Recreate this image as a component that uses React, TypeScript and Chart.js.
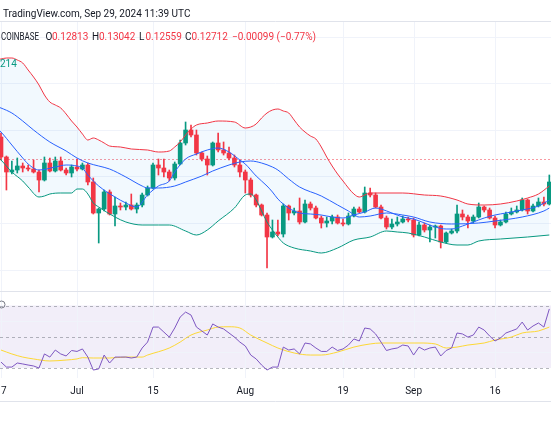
import React, { useEffect, useRef } from "react";
import { Chart, registerables } from "chart.js";

Chart.register(...registerables);

// Day index: 0 = Jul 1 2024. First visible candle is Jun 17 (-14), last is Sep 26 (87).
const FIRST_DAY = -14;

const openPrice = [
  0.1316, 0.1276, 0.1246, 0.125, 0.1258, 0.1254, 0.1252, 0.1246, 0.123, 0.1264,
  0.1248, 0.1268, 0.125, 0.1244, 0.1256, 0.1252, 0.126, 0.1226, 0.1164, 0.1172,
  0.1206, 0.1162, 0.1178, 0.1176, 0.118, 0.1172, 0.118, 0.12, 0.1214, 0.126,
  0.1254, 0.1246, 0.1234, 0.1262, 0.1304, 0.133, 0.132, 0.1284, 0.1272, 0.126,
  0.1304, 0.129, 0.1284, 0.1274, 0.126, 0.1246, 0.123, 0.12, 0.118, 0.116,
  0.1116, 0.1126, 0.1122, 0.1178, 0.1164, 0.1168, 0.1146, 0.1182, 0.1174, 0.1154,
  0.1144, 0.1148, 0.1156, 0.1144, 0.1142, 0.1158, 0.1172, 0.1166, 0.1204, 0.12,
  0.1176, 0.1154, 0.1136, 0.1142, 0.1146, 0.1152, 0.115, 0.112, 0.114, 0.113,
  0.1136, 0.1138, 0.1106, 0.1124, 0.1128, 0.1162, 0.1156, 0.1148, 0.1156, 0.1176,
  0.117, 0.1154, 0.114, 0.1146, 0.1162, 0.1166, 0.117, 0.119, 0.1168, 0.1178,
  0.1186, 0.1182,
];
const highPrice = [
  0.1324, 0.1278, 0.1268, 0.1274, 0.1264, 0.126, 0.127, 0.125, 0.1276, 0.1274,
  0.1276, 0.1276, 0.1254, 0.126, 0.1272, 0.1264, 0.1264, 0.1234, 0.1174, 0.121,
  0.121, 0.1196, 0.1184, 0.1186, 0.1202, 0.1184, 0.1204, 0.1218, 0.1264, 0.1272,
  0.1272, 0.125, 0.1266, 0.131, 0.1346, 0.134, 0.133, 0.1286, 0.1278, 0.1306,
  0.1324, 0.1306, 0.1296, 0.128, 0.127, 0.125, 0.1234, 0.1202, 0.1182, 0.1164,
  0.115, 0.115, 0.1182, 0.118, 0.1174, 0.1194, 0.119, 0.1186, 0.1178, 0.1158,
  0.1156, 0.116, 0.116, 0.1152, 0.1164, 0.1176, 0.1176, 0.1216, 0.1214, 0.1204,
  0.118, 0.1158, 0.1152, 0.1156, 0.1158, 0.1156, 0.1154, 0.1146, 0.1144, 0.114,
  0.114, 0.114, 0.1126, 0.1132, 0.118, 0.117, 0.116, 0.116, 0.1184, 0.1178,
  0.1174, 0.1158, 0.115, 0.1166, 0.1174, 0.1178, 0.1194, 0.1192, 0.1182, 0.1194,
  0.1196, 0.124,
];
const lowPrice = [
  0.127, 0.121, 0.1242, 0.1244, 0.1246, 0.1248, 0.1244, 0.1206, 0.1228, 0.1246,
  0.1246, 0.1248, 0.124, 0.1236, 0.1248, 0.125, 0.122, 0.1162, 0.1104, 0.1168,
  0.116, 0.1138, 0.117, 0.117, 0.117, 0.1164, 0.1176, 0.1198, 0.1212, 0.124,
  0.1236, 0.1228, 0.123, 0.126, 0.13, 0.1316, 0.128, 0.1268, 0.124, 0.1258,
  0.1286, 0.128, 0.127, 0.1256, 0.1236, 0.1204, 0.1196, 0.1176, 0.1158, 0.1054,
  0.1114, 0.1118, 0.1116, 0.115, 0.116, 0.1142, 0.1144, 0.117, 0.1152, 0.1134,
  0.1136, 0.1142, 0.1142, 0.1138, 0.114, 0.1156, 0.1164, 0.1164, 0.1196, 0.1174,
  0.1152, 0.1132, 0.1132, 0.1138, 0.1144, 0.1146, 0.1116, 0.1118, 0.1126, 0.1106,
  0.1114, 0.1094, 0.1104, 0.1122, 0.1124, 0.115, 0.1134, 0.1144, 0.1154, 0.1166,
  0.1152, 0.1134, 0.1138, 0.1144, 0.116, 0.1164, 0.1168, 0.1162, 0.1166, 0.1176,
  0.1178, 0.118,
];
const closePrice = [
  0.1276, 0.1246, 0.125, 0.1258, 0.1254, 0.1252, 0.1246, 0.123, 0.1264, 0.1248,
  0.1268, 0.125, 0.1244, 0.1256, 0.1252, 0.126, 0.1226, 0.1164, 0.1172, 0.1206,
  0.1162, 0.1178, 0.1176, 0.118, 0.1172, 0.118, 0.12, 0.1214, 0.126, 0.1254,
  0.1246, 0.1234, 0.1262, 0.1304, 0.133, 0.132, 0.1284, 0.1272, 0.126, 0.1304,
  0.129, 0.1284, 0.1274, 0.126, 0.1246, 0.123, 0.12, 0.118, 0.116, 0.1116,
  0.1126, 0.1122, 0.1178, 0.1164, 0.1168, 0.1146, 0.1182, 0.1174, 0.1154, 0.1144,
  0.1148, 0.1156, 0.1144, 0.1142, 0.1158, 0.1172, 0.1166, 0.1204, 0.12, 0.1176,
  0.1154, 0.1136, 0.1142, 0.1146, 0.1152, 0.115, 0.112, 0.114, 0.113, 0.1136,
  0.1138, 0.1106, 0.1124, 0.1128, 0.1162, 0.1156, 0.1148, 0.1156, 0.1176, 0.117,
  0.1154, 0.114, 0.1146, 0.1162, 0.1166, 0.117, 0.119, 0.1168, 0.1178, 0.1186,
  0.1182, 0.1226,
];

const rsiValues = [
  33.8, 30.6, 30.6, 33.2, 32.6, 31.9, 31.3, 30.0, 39.0, 37.0,
  41.5, 39.0, 37.7, 41.2, 40.6, 42.2, 37.0, 28.7, 29.4, 38.3,
  33.2, 37.0, 37.0, 37.0, 36.4, 37.0, 42.8, 46.6, 56.2, 56.2,
  53.0, 49.8, 55.6, 62.6, 65.8, 63.9, 56.2, 53.7, 51.1, 58.2,
  56.2, 55.0, 52.4, 49.8, 46.6, 44.1, 38.3, 35.8, 31.9, 28.7,
  30.6, 30.6, 43.4, 41.5, 42.2, 39.0, 46.0, 45.4, 42.8, 40.6,
  40.6, 43.4, 41.2, 42.2, 44.7, 48.6, 47.3, 55.6, 55.0, 51.8,
  46.6, 41.2, 42.2, 42.8, 44.7, 44.1, 38.3, 43.4, 41.5, 42.8,
  43.4, 37.7, 41.2, 42.8, 52.4, 51.8, 49.8, 51.1, 56.2, 54.3,
  50.5, 47.3, 49.2, 52.4, 53.7, 55.0, 59.4, 54.3, 56.9, 58.8,
  56.2, 67.8,
];

// [day, price] samples
const bbUpper = [
  [-15, 0.147], [-14, 0.1472], [-13, 0.1474], [-12, 0.1474], [-11, 0.147], [-10, 0.1464],
  [-9, 0.145], [-8, 0.1436], [-7, 0.142], [-6, 0.14], [-5, 0.1386], [-4, 0.138],
  [-3, 0.1374], [-2, 0.1362], [-1, 0.1348], [0, 0.1336], [1, 0.1322], [2, 0.131],
  [3, 0.1314], [4, 0.131], [5, 0.1304], [6, 0.1298], [8, 0.1296], [10, 0.1292],
  [13, 0.129], [15, 0.1286], [17, 0.1288], [18, 0.1296], [19, 0.1306], [20, 0.132],
  [21, 0.1332], [22, 0.134], [24, 0.1344], [26, 0.1348], [29, 0.1346], [31, 0.1334],
  [32, 0.1336], [33, 0.1342], [34, 0.1354], [35, 0.1364], [36, 0.137], [37, 0.1372],
  [38, 0.1368], [39, 0.1364], [40, 0.135], [41, 0.1336], [42, 0.1326], [43, 0.1318],
  [44, 0.1312], [45, 0.1296], [46, 0.1276], [47, 0.1258], [48, 0.1242], [49, 0.1228],
  [50, 0.1214], [51, 0.1202], [52, 0.1196], [53, 0.12], [54, 0.1204], [56, 0.1204],
  [60, 0.1204], [64, 0.12], [67, 0.1198], [70, 0.119], [72, 0.1182], [75, 0.118],
  [78, 0.1182], [81, 0.1188], [83, 0.1194], [85, 0.1202], [87, 0.1218],
];
const bbBasis = [
  [-15, 0.1378], [-14, 0.1374], [-12, 0.1364], [-10, 0.1348], [-8, 0.133], [-5, 0.1306],
  [-2, 0.1288], [0, 0.1274], [2, 0.1264], [4, 0.1258], [6, 0.1252], [9, 0.1236],
  [12, 0.1218], [13, 0.1214], [15, 0.1214], [18, 0.1218], [20, 0.1226], [23, 0.1238],
  [25, 0.1248], [28, 0.126], [30, 0.1266], [32, 0.1268], [34, 0.1264], [36, 0.1256],
  [37, 0.125], [39, 0.1232], [41, 0.1216], [45, 0.1198], [48, 0.118], [50, 0.1168],
  [52, 0.1156], [54, 0.1158], [57, 0.1164], [60, 0.116], [62, 0.1156], [65, 0.1146],
  [69, 0.1142], [74, 0.1144], [77, 0.1148], [82, 0.1156], [86, 0.1168], [87, 0.1174],
];
const fastMa = [
  [-15, 0.1336], [-14, 0.1326], [-12, 0.13], [-10, 0.1274], [-9, 0.1262], [-7, 0.125],
  [-4, 0.1256], [-2, 0.126], [0, 0.1258], [1, 0.1254], [2, 0.124], [4, 0.1218],
  [7, 0.1196], [9, 0.1184], [11, 0.1176], [13, 0.12], [15, 0.1218], [17, 0.1228],
  [18, 0.1246], [20, 0.1272], [22, 0.1282], [24, 0.129], [26, 0.1294], [28, 0.1286],
  [30, 0.127], [31, 0.1262], [33, 0.1238], [35, 0.1218], [36, 0.1206], [37, 0.1192],
  [38, 0.1182], [39, 0.1174], [40, 0.1168], [41, 0.1164], [43, 0.1162], [45, 0.116],
  [47, 0.1156], [49, 0.1154], [51, 0.116], [53, 0.1166], [55, 0.1174], [56, 0.1172],
  [58, 0.1164], [60, 0.1156], [62, 0.1152], [64, 0.1144], [66, 0.1136], [68, 0.1132],
  [69, 0.1132], [71, 0.1138], [73, 0.1146], [75, 0.1154], [77, 0.116], [79, 0.1164],
  [82, 0.117], [85, 0.1178], [87, 0.119],
];
const bbLower = [
  [-15, 0.128], [-14, 0.127], [-12, 0.1246], [-10, 0.1228], [-9, 0.1216], [-7, 0.1196],
  [-6, 0.1198], [-5, 0.1202], [-3, 0.1204], [-1, 0.1204], [0, 0.1212], [1, 0.1212],
  [2, 0.1202], [3, 0.1184], [4, 0.1176], [7, 0.1156], [9, 0.1146], [12, 0.114],
  [15, 0.114], [17, 0.114], [20, 0.1128], [22, 0.112], [24, 0.113], [26, 0.1148],
  [29, 0.1174], [31, 0.12], [32, 0.1202], [33, 0.119], [34, 0.1168], [35, 0.1146],
  [36, 0.113], [37, 0.1116], [38, 0.1104], [40, 0.1094], [43, 0.1088], [45, 0.1084],
  [48, 0.1094], [51, 0.111], [54, 0.1116], [57, 0.1128], [59, 0.1126], [61, 0.1124],
  [64, 0.1116], [67, 0.1106], [70, 0.11], [72, 0.11], [74, 0.1108], [78, 0.1112],
  [83, 0.1116], [87, 0.112],
];
const rsiMa = [
  [-14, 41.5], [-12, 39.0], [-10, 37.0], [-8, 35.8], [-5, 34.5], [-2, 35.1], [0, 35.8],
  [1, 36.6], [3, 36.4], [6, 36.4], [9, 37.0], [12, 37.0], [13, 38.3], [17, 42.8],
  [19, 46.6], [21, 51.1], [24, 54.3], [26, 56.2], [28, 56.4], [30, 55.6], [32, 51.1],
  [35, 46.0], [37, 42.8], [40, 39.6], [43, 38.3], [45, 38.3], [48, 40.2], [51, 43.4],
  [54, 45.4], [56, 46.0], [60, 46.0], [63, 46.0], [66, 45.4], [68, 42.8], [70, 43.4],
  [72, 44.7], [75, 46.0], [77, 47.9], [80, 49.8], [82, 52.4], [85, 53.7], [87, 56.2],
];

const timeTickDays = [-14, 0, 14, 31, 49, 62, 77];
const timeTickLabels = ["17", "Jul", "15", "Aug", "19", "Sep", "16"];
const priceGridLevels = [0.1516, 0.1423, 0.133, 0.1237, 0.1144, 0.1051];
const rsiBandLevels = [70, 50, 30];
const rsiGridLevels = [60, 40];
const lastPrice = 0.12712;

const headerTitle = "TradingView.com, Sep 29, 2024 11:39 UTC";
const symbolExchange = "COINBASE";
const ohlcKeys = ["O", "H", "L", "C"];
const ohlcValues = ["0.12813", "0.13042", "0.12559", "0.12712"];
const changeLabel = "\u22120.00099 (\u22120.77%)";
const bbLegendTail = "214";

const UP = "#089981";
const DOWN = "#F23645";
const BLUE = "#2962FF";
const TEXT = "#131722";
const GRID = "#f0f3fa";
const BORDER = "#e0e3eb";
const FONT = "10px Roboto, 'Liberation Sans', sans-serif";

// layout (pixels)
const W = 551;
const H = 431;
const PANE_TOP = 22;
const HEADER_SEP = 21.5;
const PANE_SEP = 291.5;
const AXIS_TOP = 378;
const AXIS_BOTTOM = 401.5;
const TIME_LABEL_Y = 391;
const OHLC_Y = 40;
const SYMBOL_X = 1;
const SYMBOL_MAX_W = 38;
const OHLC_KEY_X = [45.5, 92, 139, 185];
const OHLC_VAL_X = [52, 99, 145.5, 191.5];

export default function App() {
  const ref = useRef<HTMLCanvasElement>(null);

  useEffect(() => {
    const canvas = ref.current;
    if (!canvas) return;
    const days = closePrice.map((_, i) => FIRST_DAY + i);
    const colors = days.map((_, i) => (closePrice[i] >= openPrice[i] ? UP : DOWN));
    const pts = (arr: number[][]) => arr.map(([x, y]) => ({ x, y }));

    const decor = {
      id: "tvDecor",
      beforeDraw(chart: any) {
        const ctx = chart.ctx as CanvasRenderingContext2D;
        const xs = chart.scales.x;
        const ys = chart.scales.y;
        const yr = chart.scales.yr;
        ctx.save();
        ctx.fillStyle = "#ffffff";
        ctx.fillRect(0, 0, W, H);
        ctx.lineWidth = 1;
        const hline = (y: number, color: string, dash: number[] = []) => {
          ctx.beginPath();
          ctx.setLineDash(dash);
          ctx.strokeStyle = color;
          ctx.moveTo(0, y);
          ctx.lineTo(W, y);
          ctx.stroke();
        };
        const y70 = yr.getPixelForValue(70);
        const y30 = yr.getPixelForValue(30);
        ctx.fillStyle = "rgba(126,87,194,0.1)";
        ctx.fillRect(0, y70, W, y30 - y70);
        priceGridLevels.forEach((p) => hline(Math.round(ys.getPixelForValue(p)) + 0.5, GRID));
        rsiGridLevels.forEach((r) => hline(Math.round(yr.getPixelForValue(r)) + 0.5, GRID));
        timeTickDays.forEach((d) => {
          const x = Math.round(xs.getPixelForValue(d)) + 0.5;
          ctx.beginPath();
          ctx.setLineDash([]);
          ctx.strokeStyle = GRID;
          ctx.moveTo(x, PANE_TOP);
          ctx.lineTo(x, AXIS_TOP);
          ctx.stroke();
        });
        hline(HEADER_SEP, BORDER);
        hline(PANE_SEP, BORDER);
        hline(AXIS_BOTTOM, BORDER);
        rsiBandLevels.forEach((r) =>
          hline(Math.round(yr.getPixelForValue(r)) + 0.5, "rgba(120,123,134,0.55)", [3, 3])
        );
        hline(Math.round(ys.getPixelForValue(lastPrice)) + 0.5, "rgba(242,54,69,0.5)", [2, 2]);
        ctx.restore();
      },
      afterDraw(chart: any) {
        const ctx = chart.ctx as CanvasRenderingContext2D;
        const xs = chart.scales.x;
        ctx.save();
        ctx.font = FONT;
        ctx.textBaseline = "alphabetic";
        ctx.textAlign = "left";
        ctx.fillStyle = TEXT;
        ctx.fillText(headerTitle, 3, 17);
        ctx.fillText(symbolExchange, SYMBOL_X, OHLC_Y, SYMBOL_MAX_W);
        ohlcKeys.forEach((k, i) => {
          ctx.fillStyle = TEXT;
          ctx.fillText(k, OHLC_KEY_X[i], OHLC_Y);
          ctx.fillStyle = DOWN;
          ctx.fillText(ohlcValues[i], OHLC_VAL_X[i], OHLC_Y);
        });
        ctx.fillStyle = DOWN;
        ctx.fillText(changeLabel, 232, OHLC_Y);
        ctx.fillStyle = UP;
        ctx.fillText(bbLegendTail, 0, 67);
        // hidden-eye icon of the RSI legend (cut at the left edge)
        ctx.strokeStyle = "#787b86";
        ctx.lineWidth = 1;
        ctx.beginPath();
        ctx.arc(1.5, 304.5, 3.5, 0, Math.PI * 2);
        ctx.stroke();
        ctx.textAlign = "center";
        ctx.textBaseline = "middle";
        ctx.fillStyle = TEXT;
        timeTickDays.forEach((d, i) => {
          ctx.fillText(timeTickLabels[i], xs.getPixelForValue(d), TIME_LABEL_Y);
        });
        ctx.restore();
      },
    };

    const lineDs = (data: number[][], color: string, axis: string, extra: any = {}) => ({
      type: "line",
      data: pts(data),
      borderColor: color,
      borderWidth: 1,
      pointRadius: 0,
      cubicInterpolationMode: "monotone",
      fill: false,
      yAxisID: axis,
      order: 1,
      ...extra,
    });

    const chart = new Chart(canvas, {
      type: "bar",
      data: {
        datasets: [
          lineDs(bbUpper, DOWN, "y", { fill: 3, backgroundColor: "rgba(33,150,243,0.06)" }),
          lineDs(bbBasis, BLUE, "y"),
          lineDs(fastMa, BLUE, "y"),
          lineDs(bbLower, UP, "y"),
          {
            type: "bar",
            data: days.map((d, i) => ({ x: d, y: [lowPrice[i], highPrice[i]] })),
            backgroundColor: colors,
            barThickness: 1,
            grouped: false,
            yAxisID: "y",
            order: 3,
          },
          {
            type: "bar",
            data: days.map((d, i) => ({ x: d, y: [openPrice[i], closePrice[i]] })),
            backgroundColor: colors,
            barThickness: 4,
            minBarLength: 1,
            grouped: false,
            yAxisID: "y",
            order: 2,
          },
          lineDs(rsiValues.map((v, i) => [days[i], v]), "#7E57C2", "yr", {
            cubicInterpolationMode: "default",
            tension: 0,
          }),
          lineDs(rsiMa, "#FDD835", "yr"),
        ] as any,
      },
      options: {
        responsive: false,
        animation: false,
        devicePixelRatio: 1,
        events: [],
        layout: { padding: 0 },
        plugins: {
          legend: { display: false },
          tooltip: { enabled: false },
          title: { display: false },
          filler: { drawTime: "beforeDatasetsDraw", propagate: false },
        } as any,
        scales: {
          x: { type: "linear", min: -14.183, max: 87.309, offset: false, display: false },
          y: { type: "linear", min: 0.0728, max: 0.159, display: false },
          yr: { type: "linear", min: -10.32, max: 265.52, display: false },
        } as any,
      },
      plugins: [decor],
    });
    return () => chart.destroy();
  }, []);

  return (
    <div style={{ position: "fixed", left: 0, top: 0, width: W, height: H, background: "#fff" }}>
      <canvas ref={ref} width={W} height={H} style={{ display: "block" }} />
    </div>
  );
}
